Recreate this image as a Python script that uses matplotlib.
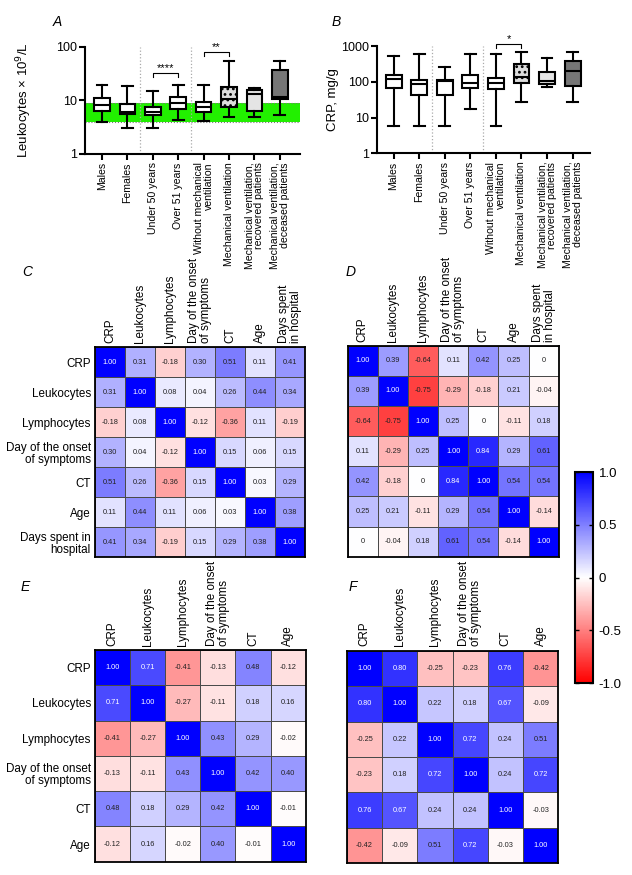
import numpy as np
import matplotlib
matplotlib.use('Agg')
import matplotlib.pyplot as plt
from matplotlib.colors import LinearSegmentedColormap
from matplotlib.cm import ScalarMappable
from matplotlib.colors import Normalize

plt.rcParams['font.family'] = ['Liberation Sans', 'DejaVu Sans']
plt.rcParams['hatch.color'] = '#8a8a8a'
plt.rcParams['hatch.linewidth'] = 1.2

# ---- box plot data ----
groups = ['Males', 'Females', 'Under 50 years', 'Over 51 years',
          'Without mechanical\nventilation', 'Mechanical ventilation',
          'Mechanical ventilation,\nrecovered patients',
          'Mechanical ventilation,\ndeceased patients']

leu_whislo = [4.0, 3.1, 3.1, 4.3, 4.1, 5.0, 5.0, 5.4]
leu_q1 = [6.4, 5.5, 5.35, 6.9, 6.2, 7.6, 6.3, 10.6]
leu_med = [8.1, 6.0, 6.2, 9.1, 7.6, 10.6, 13.0, 11.8]
leu_q3 = [11.3, 8.5, 7.6, 11.5, 9.4, 17.6, 15.7, 37.0]
leu_whishi = [19.5, 18.8, 14.8, 19.5, 19.5, 55.0, 17.3, 55.0]

crp_whislo = [5.8, 5.8, 5.8, 17, 5.8, 28, 72, 28]
crp_q1 = [65, 44, 44, 67, 61, 90, 86, 76]
crp_med = [119, 85, 103, 90, 92, 133, 105, 203]
crp_q3 = [151, 109, 112, 157, 127, 312, 183, 379]
crp_whishi = [522, 594, 258, 594, 594, 663, 459, 663]

leu_normal = [4, 9]

# ---- correlation matrices ----
vars7 = ['CRP', 'Leukocytes', 'Lymphocytes', 'Day of the onset\nof symptoms',
         'CT', 'Age', 'Days spent\nin hospital']
rows7 = ['CRP', 'Leukocytes', 'Lymphocytes', 'Day of the onset\nof symptoms',
         'CT', 'Age', 'Days spent in\nhospital']
vars6 = vars7[:6]
rows6 = rows7[:6]

corr_c = [[1.00, 0.31, -0.18, 0.30, 0.51, 0.11, 0.41],
          [0.31, 1.00, 0.08, 0.04, 0.26, 0.44, 0.34],
          [-0.18, 0.08, 1.00, -0.12, -0.36, 0.11, -0.19],
          [0.30, 0.04, -0.12, 1.00, 0.15, 0.06, 0.15],
          [0.51, 0.26, -0.36, 0.15, 1.00, 0.03, 0.29],
          [0.11, 0.44, 0.11, 0.06, 0.03, 1.00, 0.38],
          [0.41, 0.34, -0.19, 0.15, 0.29, 0.38, 1.00]]

corr_d = [[1.00, 0.39, -0.64, 0.11, 0.42, 0.25, 0],
          [0.39, 1.00, -0.75, -0.29, -0.18, 0.21, -0.04],
          [-0.64, -0.75, 1.00, 0.25, 0, -0.11, 0.18],
          [0.11, -0.29, 0.25, 1.00, 0.84, 0.29, 0.61],
          [0.42, -0.18, 0, 0.84, 1.00, 0.54, 0.54],
          [0.25, 0.21, -0.11, 0.29, 0.54, 1.00, -0.14],
          [0, -0.04, 0.18, 0.61, 0.54, -0.14, 1.00]]

corr_e = [[1.00, 0.71, -0.41, -0.13, 0.48, -0.12],
          [0.71, 1.00, -0.27, -0.11, 0.18, 0.16],
          [-0.41, -0.27, 1.00, 0.43, 0.29, -0.02],
          [-0.13, -0.11, 0.43, 1.00, 0.42, 0.40],
          [0.48, 0.18, 0.29, 0.42, 1.00, -0.01],
          [-0.12, 0.16, -0.02, 0.40, -0.01, 1.00]]

corr_f = [[1.00, 0.80, -0.25, -0.23, 0.76, -0.42],
          [0.80, 1.00, 0.22, 0.18, 0.67, -0.09],
          [-0.25, 0.22, 1.00, 0.72, 0.24, 0.51],
          [-0.23, 0.18, 0.72, 1.00, 0.24, 0.72],
          [0.76, 0.67, 0.24, 0.24, 1.00, -0.03],
          [-0.42, -0.09, 0.51, 0.72, -0.03, 1.00]]

cbar_ticks = [-1.0, -0.5, 0, 0.5, 1.0]
cbar_labels = ['-1.0', '-0.5', '0', '0.5', '1.0']

box_faces = ['white'] * 5 + ['#dcdcdc', '#e4e4e4', '#767676']
box_hatch = [None] * 5 + ['...', None, None]

cmap = LinearSegmentedColormap.from_list('rwb', ['#ff0000', '#ffffff', '#0000ff'])

fig = plt.figure(figsize=(6.32, 8.75), dpi=100)


def boxpanel(rect, whislo, q1, med, q3, whishi, xlim, ylim, yticks, ylabel, lblx):
    ax = fig.add_axes(rect)
    pos = np.arange(1, len(med) + 1)
    stats = []
    for i in range(len(med)):
        stats.append(dict(whislo=whislo[i], q1=q1[i], med=med[i], q3=q3[i],
                          whishi=whishi[i], fliers=[]))
    bp = ax.bxp(stats, positions=pos, widths=0.62, patch_artist=True,
                showfliers=False, capwidths=0.42,
                boxprops=dict(linewidth=1.5, edgecolor='black'),
                whiskerprops=dict(linewidth=1.5),
                capprops=dict(linewidth=1.5),
                medianprops=dict(linewidth=1.5, color='black'))
    for patch, fc, h in zip(bp['boxes'], box_faces, box_hatch):
        patch.set_facecolor(fc)
        if h:
            patch.set_hatch(h)
        patch.set_zorder(3)
    for k in ['whiskers', 'caps', 'medians']:
        for l in bp[k]:
            l.set_zorder(4)
    ax.set_yscale('log')
    ax.set_ylim(*ylim)
    ax.set_xlim(*xlim)
    ax.set_yticks(yticks)
    ax.set_yticklabels([str(t) for t in yticks], fontsize=9)
    ax.minorticks_off()
    ax.set_xticks(pos)
    ax.set_xticklabels(groups, rotation=90, fontsize=7.6, va='top', ha='center',
                       multialignment='right', linespacing=1.0)
    for s in ['top', 'right']:
        ax.spines[s].set_visible(False)
    for s in ['left', 'bottom']:
        ax.spines[s].set_linewidth(1.5)
    ax.tick_params(width=1.5, length=4, pad=2)
    for xv in [2.5, 4.5]:
        ax.axvline(xv, color='#aaaaaa', linestyle=':', linewidth=0.9, zorder=1)
    ax.set_ylabel(ylabel, fontsize=9.5)
    ax.yaxis.set_label_coords(lblx, 0.5)
    return ax


def bracket(ax, x1, x2, ytop, ybot, text):
    ax.plot([x1, x1, x2, x2], [ybot, ytop, ytop, ybot], color='black',
            linewidth=0.8, clip_on=False, zorder=5)
    ax.text((x1 + x2) / 2, ytop, text, ha='center', va='bottom', fontsize=8,
            clip_on=False)


axA = boxpanel([0.1345, 0.824, 0.340, 0.1223], leu_whislo, leu_q1, leu_med,
               leu_q3, leu_whishi, (0.33, 8.79), (1, 100), [1, 10, 100],
               'Leukocytes × 10$^9$/L', -0.237)
axA.axhspan(leu_normal[0], leu_normal[1], color='#22f000', zorder=0.5, lw=0)
for yv in leu_normal:
    axA.axhline(yv, color='#777777', linestyle=':', linewidth=0.8, zorder=0.6)
bracket(axA, 3, 4, 33, 27.5, '****')
bracket(axA, 5, 6, 80, 68, '**')

axB = boxpanel([0.5965, 0.8248, 0.337, 0.1226], crp_whislo, crp_q1, crp_med,
               crp_q3, crp_whishi, (0.35, 8.68), (1, 1000), [1, 10, 100, 1000],
               'CRP, mg/g', -0.178)
bracket(axB, 5, 6, 1130, 857, '*')


def heat(rect, mat, cols, rows):
    ax = fig.add_axes(rect)
    m = np.array(mat)
    n = m.shape[0]
    ax.pcolormesh(m, cmap=cmap, vmin=-1, vmax=1, edgecolors='#4a4a4a',
                  linewidth=0.7)
    ax.set_xlim(0, n)
    ax.set_ylim(n, 0)
    for i in range(n):
        for j in range(n):
            v = m[i, j]
            s = '0' if v == 0 else '%.2f' % v
            ax.text(j + 0.5, i + 0.5, s, ha='center', va='center', fontsize=5.3,
                    color='white' if v > 0.65 else '#222222')
    ax.xaxis.tick_top()
    ax.set_xticks(np.arange(n) + 0.5)
    ax.set_xticklabels(cols, rotation=90, fontsize=8.4, va='bottom',
                       ha='center', multialignment='left', linespacing=1.0)
    ax.set_yticks(np.arange(n) + 0.5)
    if rows:
        ax.set_yticklabels(rows, fontsize=8.4, multialignment='right',
                           linespacing=1.05)
    else:
        ax.set_yticklabels([])
    ax.tick_params(length=0, pad=3)
    for s in ax.spines.values():
        s.set_linewidth(1.3)
    return ax


heat([0.1503, 0.3634, 0.3323, 0.2400], corr_c, vars7, rows7)
heat([0.5502, 0.3638, 0.3339, 0.2411], corr_d, vars7, None)
heat([0.1503, 0.0152, 0.3334, 0.2419], corr_e, vars6, rows6)
heat([0.5490, 0.0134, 0.3343, 0.2430], corr_f, vars6, None)

cax = fig.add_axes([0.9098, 0.2194, 0.0285, 0.2411])
cb = fig.colorbar(ScalarMappable(norm=Normalize(-1, 1), cmap=cmap), cax=cax,
                  ticks=cbar_ticks)
cb.ax.set_yticklabels(cbar_labels, fontsize=9.5)
cb.ax.tick_params(direction='in', left=True, right=True, length=3, width=1,
                  pad=4)
cb.outline.set_linewidth(1.5)

for lbl, x, y in [('A', 57, 22), ('B', 336, 22), ('C', 27, 272),
                  ('D', 351, 272), ('E', 25, 587), ('F', 353, 587)]:
    fig.text(x / 632, 1 - y / 875, lbl, style='italic', fontsize=10,
             ha='center', va='center')

plt.savefig('out.png', dpi=100)
